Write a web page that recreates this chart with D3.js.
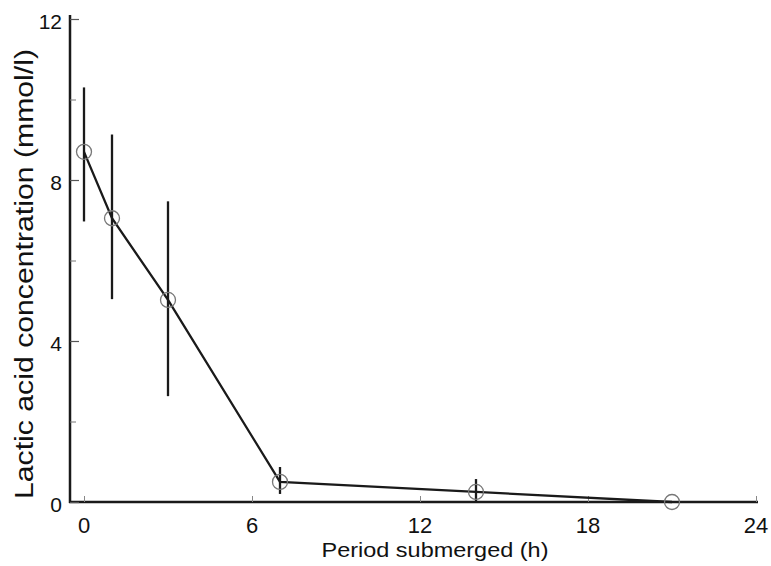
<!DOCTYPE html>
<html><head><meta charset="utf-8">
<script src="https://cdn.jsdelivr.net/npm/d3@7"></script>
<style>body{margin:0;background:#fff}svg{display:block}text{font-family:"Liberation Sans",Arial,sans-serif;fill:#111}</style>
</head><body>
<svg id="c" width="771" height="566"></svg>
<script>
const hours = [0, 1, 3, 7, 14, 21];
const means = [8.7, 7.05, 5.02, 0.5, 0.25, 0.0];
const errLow = [6.97, 5.04, 2.63, 0.2, 0.02, 0.0];
const errHigh = [10.3, 9.13, 7.47, 0.87, 0.57, 0.0];
const xTicks = [0, 6, 12, 18, 24];
const yTicks = [0, 4, 8, 12];
const yMinor = [2, 6, 10];

const svg = d3.select("#c");
const x = d3.scaleLinear().domain([-0.5, 24]).range([70, 756]);
const y = d3.scaleLinear().domain([0, 12]).range([502, 19]);
const ink = "#1a1a1a";

// axes lines
svg.append("line").attr("x1", 70).attr("x2", 70).attr("y1", 15).attr("y2", 503).attr("stroke", ink).attr("stroke-width", 2.5);
svg.append("line").attr("x1", 69).attr("x2", x(24) + 2).attr("y1", y(0)).attr("y2", y(0)).attr("stroke", ink).attr("stroke-width", 2.5);

// y ticks (inward)
const gy = svg.append("g").attr("transform", "translate(70,0)").call(d3.axisRight(y).tickValues(yTicks).tickSize(9).tickFormat(""));
gy.select(".domain").remove();
gy.selectAll("line").attr("stroke", "#555").attr("stroke-width", 1.2);
const gym = svg.append("g").attr("transform", "translate(70,0)").call(d3.axisRight(y).tickValues(yMinor).tickSize(6).tickFormat(""));
gym.select(".domain").remove();
gym.selectAll("line").attr("stroke", "#777").attr("stroke-width", 1);
svg.selectAll(".ylab").data(yTicks).enter().append("text")
  .attr("x", 62).attr("y", d => y(d) + 2.5).attr("dy", "0.36em").attr("text-anchor", "end")
  .attr("font-size", 21).text(d => d);

// x ticks (inward)
const gx = svg.append("g").attr("transform", `translate(0,${y(0)})`).call(d3.axisTop(x).tickValues(xTicks).tickSize(6).tickFormat(""));
gx.select(".domain").remove();
gx.selectAll("line").attr("stroke", "#888").attr("stroke-width", 1);
svg.selectAll(".xlab").data(xTicks).enter().append("text")
  .attr("x", d => x(d)).attr("y", 533).attr("text-anchor", "middle")
  .attr("font-size", 22).text(d => d);

// axis titles
svg.append("text").attr("x", 435).attr("y", 557).attr("text-anchor", "middle").attr("font-size", 21)
  .attr("textLength", 227).attr("lengthAdjust", "spacingAndGlyphs").text("Period submerged (h)");
svg.append("text").attr("transform", "translate(33,274) rotate(-90)").attr("text-anchor", "middle").attr("font-size", 25)
  .attr("textLength", 450).attr("lengthAdjust", "spacingAndGlyphs").text("Lactic acid concentration (mmol/l)");

const data = hours.map((h, i) => ({h, m: means[i], lo: errLow[i], hi: errHigh[i]}));

// error bars
svg.selectAll(".err").data(data).enter().append("line")
  .attr("x1", d => x(d.h)).attr("x2", d => x(d.h))
  .attr("y1", d => y(d.hi)).attr("y2", d => y(d.lo))
  .attr("stroke", ink).attr("stroke-width", 2.3);

// line
svg.append("path").datum(data)
  .attr("d", d3.line().x(d => x(d.h)).y(d => y(d.m)))
  .attr("fill", "none").attr("stroke", ink).attr("stroke-width", 2.3);

// circles
svg.selectAll(".pt").data(data).enter().append("circle")
  .attr("cx", d => x(d.h)).attr("cy", d => y(d.m)).attr("r", 7.5)
  .attr("fill", "none").attr("stroke", "#777").attr("stroke-width", 1.3);
</script>
</body></html>
